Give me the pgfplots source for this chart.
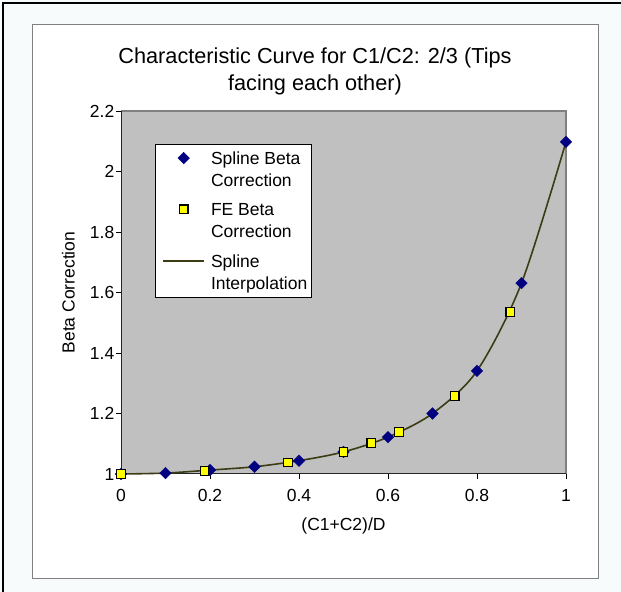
\documentclass[border=0pt]{standalone}
\usepackage{pgfplots}
\pgfplotsset{compat=1.18}
\usepackage{fontspec}
\setmainfont{Liberation Sans}
\definecolor{bgc}{HTML}{F7FBFB}
\definecolor{boxgray}{HTML}{808080}
\definecolor{plotgray}{HTML}{C0C0C0}
\definecolor{navy}{HTML}{000080}
\definecolor{yel}{HTML}{FFFF00}
\definecolor{olivel}{HTML}{3C3C14}
\newcommand{\fs}{\fontsize{17.5bp}{21bp}\selectfont}
\newcommand{\tfs}{\fontsize{21.7bp}{27bp}\selectfont}
\newcommand{\twoline}[2]{\vbox{\baselineskip=22bp\hbox{#1}\hbox{#2}}}
\pgfplotsset{
  markleg/.style={legend image code/.code={\path (-3bp,0bp) (41bp,0bp); \draw[##1] plot coordinates {(20.5bp,28bp)};}},
  lineleg/.style={legend image code/.code={\path (-3bp,0bp); \draw[##1] (0bp,28bp) -- (41bp,28bp);}},
}
\begin{document}
\begin{tikzpicture}
\useasboundingbox (0,0) rectangle (621bp,592bp);
\fill[bgc] (0,0) rectangle (621bp,592bp);
\draw[black, line width=2.4bp] (2.9bp,0bp) -- (2.9bp,589.1bp) -- (621bp,589.1bp);
\filldraw[fill=white, draw=boxgray, line width=1bp] (32bp,13bp) rectangle (598bp,567bp);
\node[anchor=base, font=\tfs, inner sep=0pt] at (315bp,528.7bp) {Characteristic Curve for C1/C2: 2/3 (Tips};
\node[anchor=base, font=\tfs, inner sep=0pt] at (315bp,501.7bp) {facing each other)};
\begin{axis}[
  at={(121bp,118bp)}, anchor=south west,
  scale only axis, width=445bp, height=363bp,
  xmin=0, xmax=1, ymin=1, ymax=2.2,
  xtick={0,0.2,0.4,0.6,0.8,1},
  ytick={1,1.2,1.4,1.6,1.8,2,2.2},
  tick align=outside, xtick pos=left, ytick pos=left,
  major tick length=5bp,
  tick style={black, line width=0.8bp},
  axis background/.style={fill=plotgray},
  axis line style={draw=none},
  clip=false,
  /pgf/number format/assume math mode=true,
  xticklabel style={font=\fs, inner sep=0pt, anchor=north, yshift=-10bp},
  yticklabel style={font=\fs, inner sep=0pt, anchor=east, xshift=-1.5bp},
  xlabel={(C1+C2)/D},
  xlabel style={font=\fs, inner sep=0pt, at={(axis description cs:0.5,-0.1433)}, anchor=center},
  ylabel={Beta Correction},
  ylabel style={font=\fs, inner sep=0pt, at={(axis description cs:-0.1034,0.5)}, anchor=south},
  legend cell align=left,
  legend style={at={(axis description cs:0.0764,0.909)}, anchor=north west,
    draw=black, line width=0.8bp, fill=white, inner xsep=4bp, inner ysep=7bp,
    font=\fs, row sep=15.7bp, column sep=6bp,
    cells={anchor=base west}, nodes={inner sep=0bp}},
]
\draw[boxgray, line width=2bp] (rel axis cs:0,1) -- (rel axis cs:1,1) -- (rel axis cs:1,0);
\draw[black!85, line width=1bp] (rel axis cs:0,1) -- (rel axis cs:0,0) -- (rel axis cs:1,0);
% spline interpolation curve (behind markers)
\addplot[olivel, line width=1.6bp, smooth, forget plot] table {
x y
0 1.000
0.1 1.003
0.2 1.013
0.3 1.024
0.4 1.044
0.5 1.073
0.6 1.122
0.7 1.200
0.8 1.341
0.9 1.631
1.0 2.098
};
% spline beta correction
\addplot[only marks, mark=square*, mark size=4.1bp,
  mark options={rotate=45, fill=navy, draw=navy, line width=0.4bp}, markleg]
  table {
x y
0 1.000
0.1 1.003
0.2 1.013
0.3 1.024
0.4 1.044
0.5 1.073
0.6 1.122
0.7 1.200
0.8 1.341
0.9 1.631
1.0 2.098
};
\addlegendentry{\twoline{Spline Beta}{Correction}}
% FE beta correction
\addplot[only marks, mark=square*, mark size=4.3bp,
  mark options={fill=yel, draw=black, line width=1.2bp}, markleg]
  table {
x y
0 1.000
0.1875 1.010
0.375 1.038
0.5 1.073
0.5625 1.103
0.625 1.139
0.75 1.258
0.875 1.536
};
\addlegendentry{\twoline{FE Beta}{Correction}}
\addlegendimage{olivel, line width=1.6bp, lineleg}
\addlegendentry{\twoline{Spline}{Interpolation}}
\end{axis}
\end{tikzpicture}
\end{document}
